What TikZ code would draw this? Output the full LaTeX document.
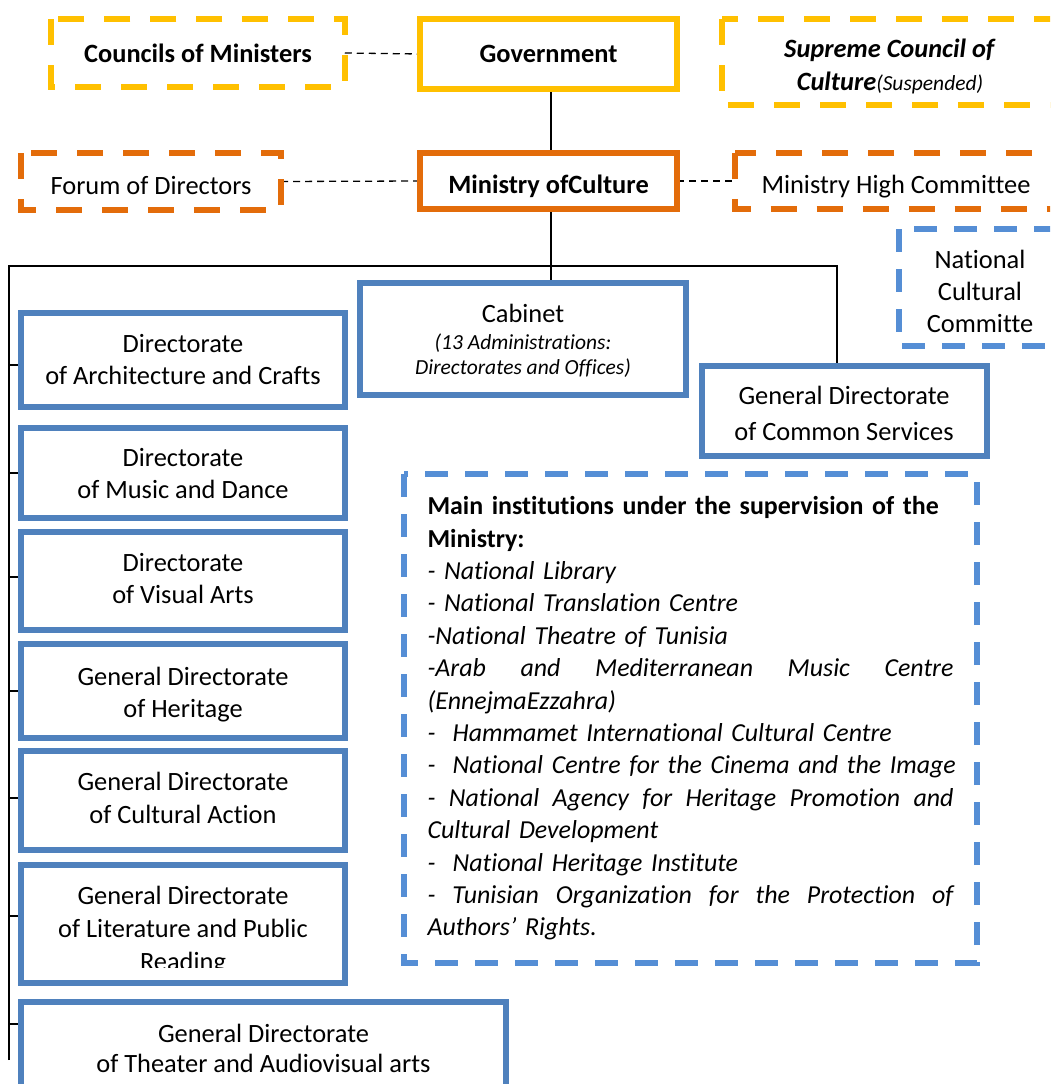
\documentclass[tikz,border=0pt]{standalone}
\usepackage{fontspec}
\setmainfont{Carlito}[Ligatures=NoCommon]
\definecolor{cyel}{HTML}{FFC000}
\definecolor{cora}{HTML}{E36C0A}
\definecolor{cblu}{HTML}{4F81BD}
\definecolor{cdbl}{HTML}{558ED5}
\newcommand\mybody{\fontsize{26.4}{32.4}\selectfont}
\newcommand\mymain{\fontsize{25.9}{32.4}\selectfont}
\newcommand\mysmall{\fontsize{21.5}{26}\selectfont}
\newcommand\dframe[2]{\draw[#1] (#2.north west) -- (#2.south west) -- (#2.south east) -- (#2.north east) -- cycle;}
\newcommand\tb[2]{\raisebox{#1}[\height][\depth]{\begin{tabular}{@{}c@{}}#2\end{tabular}}}
\newcommand\sh[2]{\raisebox{#1}[\height][\depth]{#2}}
\newcommand\jline[1]{\leavevmode\hbox to 526pt{\spaceskip=0.23em plus 1fil\relax #1}}
\newcommand\pline[1]{\leavevmode\hbox{#1}}
\pgfdeclarelayer{background}
\pgfsetlayers{background,main}
\begin{document}
\begin{tikzpicture}[x=1pt,y=-1pt,
  sbox/.style={draw, line width=6pt, outer sep=0pt, inner sep=0pt, align=center, font=\mybody},
  ybox/.style={sbox, draw=cyel},
  obox/.style={sbox, draw=cora},
  bbox/.style={sbox, draw=cblu},
  dbox/.style={outer sep=0pt, inner sep=0pt, align=center, font=\mybody},
  yd/.style={line width=6pt, draw=cyel, dash pattern=on 26pt off 20pt},
  od/.style={line width=6pt, draw=cora, dash pattern=on 26pt off 20pt},
  bd/.style={line width=6pt, draw=cdbl, dash pattern=on 23pt off 17pt},
  conn/.style={line width=1.6pt, draw=black},
  dconn/.style={line width=1.3pt, draw=black, dash pattern=on 7pt off 5pt}]
\clip (0,0) rectangle (1050,1084);
% top level
\node[dbox, minimum width=293.5pt, minimum height=68pt] (cm) at (198,53) {\textbf{Councils of Ministers}};
\dframe{yd}{cm}
\node[ybox, minimum width=257pt, minimum height=70pt] (gov) at (548.5,54) {\textbf{Government}};
\node[dbox, minimum width=336pt, minimum height=86pt] (sc) at (890,62) {\tb{-5.5pt}{\textbf{\textit{Supreme Council of}}\\\textbf{\textit{Culture}}{\mysmall\itshape(Suspended)}}};
\dframe{yd}{sc}
% second level
\node[dbox, minimum width=260pt, minimum height=57pt] (fd) at (151,181.5) {\sh{-4pt}{Forum of Directors}};
\dframe{od}{fd}
\node[obox, minimum width=257pt, minimum height=55.5pt] (min) at (548.5,181) {\sh{-5pt}{\textbf{Ministry ofCulture}}};
\node[dbox, minimum width=322pt, minimum height=56.5pt] (hc) at (896,181) {\sh{-6pt}{Ministry High Committee}};
\dframe{od}{hc}
% third level
\node[dbox, minimum width=162pt, minimum height=117pt] (nc) at (980,287.5) {\tb{-6.5pt}{National\\Cultural\\Committe}};
\dframe{bd}{nc}
\node[bbox, minimum width=325.5pt, minimum height=112.5pt] (cab) at (523,339) {\tb{-3pt}{Cabinet\\[-5pt]{\mysmall\itshape (13 Administrations:}\\[-7pt]{\mysmall\itshape Directorates and Offices)}}};
\node[bbox, minimum width=285pt, minimum height=90.5pt] (cs) at (844,411) {\tb{-5pt}{General Directorate\\[4pt]of Common Services}};
% left column
\node[bbox, minimum width=324pt, minimum height=94pt] (arch) at (183,360) {\tb{-2pt}{Directorate\\of Architecture and Crafts}};
\node[bbox, minimum width=324pt, minimum height=90pt] (mus) at (183,473) {\tb{-3pt}{Directorate\\of Music and Dance}};
\node[bbox, minimum width=324pt, minimum height=97.5pt] (vis) at (183,580.75) {\tb{0pt}{Directorate\\of Visual Arts}};
\node[bbox, minimum width=324pt, minimum height=93.5pt] (her) at (183,691) {\tb{-4pt}{General Directorate\\of Heritage}};
\node[bbox, minimum width=324pt, minimum height=99pt] (cul) at (183,800.5) {\tb{0pt}{General Directorate\\of Cultural Action}};
\node[bbox, minimum width=324pt, minimum height=118.5pt] (lit) at (183,923.75) {\tb{-7pt}{General Directorate\\[0.6pt]of Literature and Public\\[0.6pt]Reading}};
\fill[white] (24,968) rectangle (342,980);
\node[bbox, minimum width=485pt, minimum height=92pt] (th) at (263.5,1048) {\tb{-3pt}{General Directorate\\[-2pt]of Theater and Audiovisual arts}};
% institutions
\node[outer sep=0pt, inner sep=0pt, minimum width=573pt, minimum height=489pt, text width=526pt, align=left, font=\mymain] (inst) at (690.5,718.5) {%
\pline{\textbf{Main institutions under the supervision of the}}\\
\pline{\textbf{Ministry:}}\\
\itshape
\pline{- National Library}\\
\pline{- National Translation Centre}\\
\pline{-National Theatre of Tunisia}\\
\jline{-Arab and Mediterranean Music Centre}\\
\pline{(EnnejmaEzzahra)}\\
\pline{-\ \ Hammamet International Cultural Centre}\\
\pline{-\ \ National Centre for the Cinema and the Image}\\
\jline{- National Agency for Heritage Promotion and}\\
\pline{Cultural Development}\\
\pline{-\ \ National Heritage Institute}\\
\jline{- Tunisian Organization for the Protection of}\\
\pline{Authors’ Rights.}};
\dframe{bd}{inst}
% connectors
\coordinate (hl) at (9,266);
\coordinate (hr) at (837,266);
\coordinate (vb) at (9,1060);
\begin{pgfonlayer}{background}
\draw[dconn] (cm.east) -- (gov.west);
\draw[dconn] (fd.east) -- (min.west);
\draw[dconn] (min.east) -- (hc.west);
\draw[conn] ([xshift=2.5pt]gov.south) -- ([xshift=2.5pt]min.north);
\draw[conn] ([xshift=2.5pt]min.south) -- ([xshift=2.5pt]min.south |- cab.north);
\draw[conn] (vb) -- (hl) -- (hr) -- (hr |- cs.north);
\draw[conn] ([yshift=-5pt]arch.west) -- ++(-12,0);
\draw[conn] (mus.west) -- ++(-12,0);
\draw[conn] ([yshift=4pt]vis.west) -- ++(-12,0);
\draw[conn] (her.west) -- ++(-12,0);
\draw[conn] ([yshift=2.5pt]cul.west) -- ++(-12,0);
\draw[conn] ([yshift=8pt]lit.west) -- ++(-12,0);
\draw[conn] ([yshift=24pt]th.west) -- ++(-12,0);
\end{pgfonlayer}
\end{tikzpicture}
\end{document}
